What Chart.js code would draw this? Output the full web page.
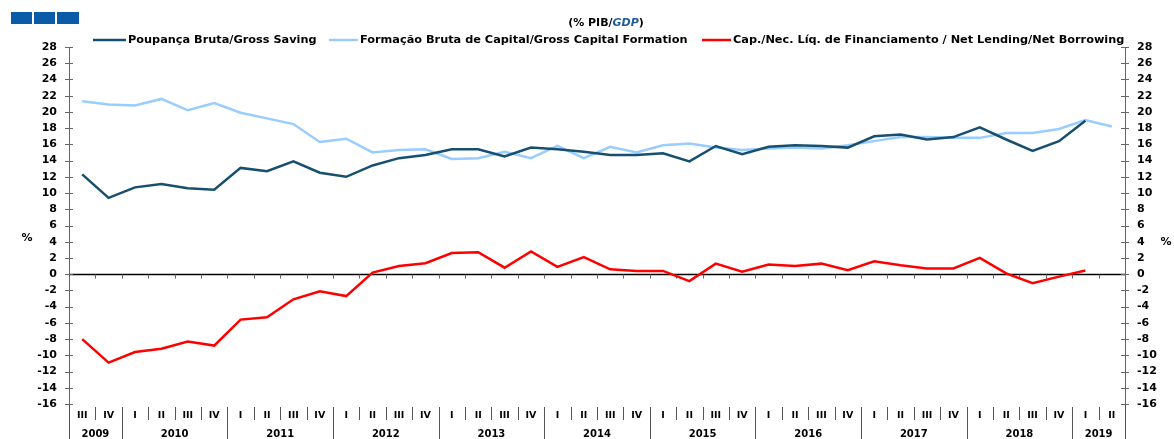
<!DOCTYPE html>
<html>
<head>
<meta charset="utf-8">
<script src="https://cdn.jsdelivr.net/npm/chart.js@4.4.0/dist/chart.umd.min.js"></script>
<style>
html, body { margin: 0; padding: 0; background: #fff; }
#wrap { position: relative; width: 1174px; height: 439px; }
</style>
</head>
<body>
<div id="wrap"><canvas id="chart"></canvas></div>
<script>
// quarters 2009 III .. 2019 II
var quarters = ['III','IV',
    'I','II','III','IV', 'I','II','III','IV', 'I','II','III','IV',
    'I','II','III','IV', 'I','II','III','IV', 'I','II','III','IV',
    'I','II','III','IV', 'I','II','III','IV', 'I','II','III','IV',
    'I','II'];
var years = ['2009','2010','2011','2012','2013','2014','2015','2016','2017','2018','2019'];
var quartersPerYear = [2,4,4,4,4,4,4,4,4,4,2];

var grossSaving = [12.3, 9.4,
    10.7, 11.1, 10.6, 10.4,
    13.1, 12.7, 13.9, 12.5,
    12.0, 13.4, 14.3, 14.7,
    15.4, 15.4, 14.5, 15.6,
    15.4, 15.1, 14.7, 14.7,
    14.9, 13.9, 15.8, 14.8,
    15.7, 15.9, 15.8, 15.6,
    17.0, 17.2, 16.6, 16.9,
    18.1, 16.6, 15.2, 16.4,
    18.9, null];
var grossCapital = [21.3, 20.9,
    20.8, 21.6, 20.2, 21.1,
    19.9, 19.2, 18.5, 16.3,
    16.7, 15.0, 15.3, 15.4,
    14.2, 14.3, 15.1, 14.3,
    15.8, 14.3, 15.7, 15.0,
    15.9, 16.1, 15.6, 15.3,
    15.5, 15.6, 15.5, 15.9,
    16.4, 16.9, 16.9, 16.8,
    16.8, 17.4, 17.4, 17.9,
    19.0, 18.2];
var netLending = [-8.0, -10.9,
    -9.6, -9.2, -8.3, -8.8,
    -5.6, -5.3, -3.1, -2.1,
    -2.7, 0.2, 1.0, 1.35,
    2.6, 2.7, 0.8, 2.8,
    0.9, 2.1, 0.6, 0.4,
    0.4, -0.86, 1.3, 0.3,
    1.2, 1.0, 1.3, 0.5,
    1.6, 1.1, 0.7, 0.7,
    2.0, 0.1, -1.1, -0.3,
    0.45, null];

var seriesNames = ['Poupança Bruta/Gross Saving',
    'Formação Bruta de Capital/Gross Capital Formation',
    'Cap./Nec. Líq. de Financiamento / Net Lending/Net Borrowing'];
var seriesColors = ['#17506f', '#99ccff', '#ff0000'];

var FONT = '"DejaVu Sans", sans-serif';

var decorPlugin = {
    id: 'decor',
    beforeDatasetsDraw(chart) {
        var ctx = chart.ctx;
        var x = chart.scales.x, y = chart.scales.y;
        var area = chart.chartArea;
        var y0 = Math.round(y.getPixelForValue(0)) + 0.5;
        var half = (x.getPixelForValue(1) - x.getPixelForValue(0)) / 2;
        ctx.save();
        // zero line
        ctx.strokeStyle = '#000';
        ctx.lineWidth = 1.5;
        ctx.beginPath();
        ctx.moveTo(area.left, y0);
        ctx.lineTo(area.right, y0);
        ctx.stroke();
        // small ticks on the zero line
        ctx.lineWidth = 1;
        ctx.strokeStyle = '#666';
        ctx.beginPath();
        for (var i = 1; i < quarters.length; i++) {
            var bx = Math.round(x.getPixelForValue(i) - half) + 0.5;
            ctx.moveTo(bx, y0);
            ctx.lineTo(bx, y0 + 4);
        }
        ctx.stroke();
        ctx.restore();
    },
    afterDraw(chart) {
        var ctx = chart.ctx;
        var x = chart.scales.x, yl = chart.scales.y;
        var area = chart.chartArea;
        var half = (x.getPixelForValue(1) - x.getPixelForValue(0)) / 2;
        ctx.save();

        // logo
        ctx.fillStyle = '#0b5ca8';
        ctx.fillRect(11, 12, 21, 12);
        ctx.fillRect(34, 12, 21, 12);
        ctx.fillRect(57, 12, 22, 12);

        // title (% PIB/GDP)
        ctx.textBaseline = 'middle';
        var t1 = '(% PIB/', t2 = 'GDP', t3 = ')';
        ctx.font = 'bold 11px ' + FONT;
        var w1 = ctx.measureText(t1).width, w3 = ctx.measureText(t3).width;
        ctx.font = 'italic bold 11px ' + FONT;
        var w2 = ctx.measureText(t2).width;
        var tx = 606 - (w1 + w2 + w3) / 2;
        ctx.fillStyle = '#000';
        ctx.font = 'bold 11px ' + FONT;
        ctx.textAlign = 'left';
        ctx.fillText(t1, tx, 23);
        ctx.fillStyle = '#1f5c99';
        ctx.font = 'italic bold 11px ' + FONT;
        ctx.fillText(t2, tx + w1, 23);
        ctx.fillStyle = '#000';
        ctx.font = 'bold 11px ' + FONT;
        ctx.fillText(t3, tx + w1 + w2, 23);

        // legend
        var legendItems = [[93, 33, 128], [329, 29, 360], [702, 29, 733]];
        ctx.font = 'bold 11.3px ' + FONT;
        for (var k = 0; k < 3; k++) {
            var it = legendItems[k];
            ctx.strokeStyle = seriesColors[k];
            ctx.lineWidth = 2.5;
            ctx.beginPath();
            ctx.moveTo(it[0], 40);
            ctx.lineTo(it[0] + it[1], 40);
            ctx.stroke();
            ctx.fillStyle = '#000';
            ctx.fillText(seriesNames[k], it[2], 40);
        }

        // % unit labels
        ctx.font = 'bold 11px ' + FONT;
        ctx.textAlign = 'center';
        ctx.fillText('%', 27, 238);
        ctx.fillText('%', 1166, 242);

        // crossing tick marks on both y axes
        ctx.strokeStyle = '#666';
        ctx.lineWidth = 1;
        ctx.beginPath();
        yl.ticks.forEach(function(t) {
            var py = Math.round(yl.getPixelForValue(t.value)) + 0.5;
            ctx.moveTo(area.left - 4, py);
            ctx.lineTo(area.left + 4, py);
            ctx.moveTo(area.right - 4, py);
            ctx.lineTo(area.right + 4, py);
        });
        ctx.stroke();

        // separators in the category label area
        var boundaries = {0: true};
        var acc = 0;
        quartersPerYear.forEach(function(n) { acc += n; boundaries[acc] = true; });
        ctx.strokeStyle = '#555';
        ctx.beginPath();
        for (var i = 0; i <= quarters.length; i++) {
            var bx, top = area.bottom + 3;
            if (i === 0) { bx = area.left; top = area.bottom; }
            else if (i === quarters.length) { bx = area.right; top = area.bottom; }
            else bx = x.getPixelForValue(i) - half;
            bx = Math.round(bx) + 0.5;
            ctx.moveTo(bx, top);
            ctx.lineTo(bx, boundaries[i] ? 439 : 420);
        }
        ctx.stroke();

        // year labels
        ctx.fillStyle = '#000';
        ctx.font = 'bold 10px ' + FONT;
        ctx.textAlign = 'center';
        var start = 0;
        years.forEach(function(yr, j) {
            var end = start + quartersPerYear[j] - 1;
            var cx = (x.getPixelForValue(start) + x.getPixelForValue(end)) / 2;
            ctx.fillText(yr, cx, 434);
            start = end + 1;
        });
        ctx.restore();
    }
};

function yAxis(position, width) {
    return {
        type: 'linear',
        position: position,
        min: -16,
        max: 28,
        afterFit: function(scale) { scale.width = width; },
        grid: { display: false, drawTicks: false },
        border: { display: true, color: '#666', width: 1 },
        ticks: {
            stepSize: 2,
            padding: 12,
            color: '#000',
            font: { family: FONT, size: 11, weight: 'bold' }
        }
    };
}

var datasets = [grossSaving, grossCapital, netLending].map(function(d, i) {
    return {
        label: seriesNames[i],
        data: d,
        borderColor: seriesColors[i],
        backgroundColor: seriesColors[i],
        borderWidth: 2.5,
        pointRadius: 0,
        tension: 0,
        fill: false,
        yAxisID: 'y'
    };
});

new Chart(document.getElementById('chart'), {
    type: 'line',
    data: { labels: quarters, datasets: datasets },
    options: {
        responsive: true,
        maintainAspectRatio: false,
        animation: false,
        events: [],
        layout: { padding: { top: 47, bottom: 0, left: 0, right: 0 } },
        plugins: {
            legend: { display: false },
            title: { display: false },
            tooltip: { enabled: false }
        },
        scales: {
            x: {
                type: 'category',
                offset: true,
                afterFit: function(scale) { scale.height = 35; },
                grid: { display: false, drawTicks: false },
                border: { display: false },
                ticks: {
                    autoSkip: false,
                    maxRotation: 0,
                    padding: 6,
                    color: '#000',
                    font: { family: FONT, size: 9.5, weight: 'bold' }
                }
            },
            y: yAxis('left', 69),
            y2: yAxis('right', 49)
        }
    },
    plugins: [decorPlugin]
});
</script>
</body>
</html>
